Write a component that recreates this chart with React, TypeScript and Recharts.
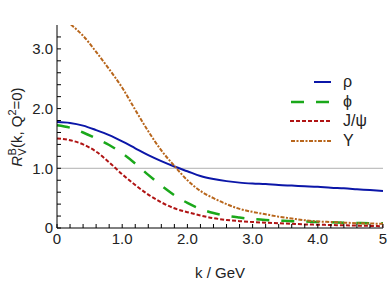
import { LineChart, Line, XAxis, YAxis, ReferenceLine, Legend } from 'recharts';

const K = [0, 0.2, 0.4, 0.6, 0.8, 1.0, 1.2, 1.4, 1.6, 1.8, 2.0, 2.2, 2.4, 2.6, 2.8, 3.0, 3.2, 3.4, 3.6, 3.8, 4.0, 4.2, 4.4, 4.6, 4.8, 5.0];

const RHO = [1.775, 1.76, 1.715, 1.64, 1.555, 1.45, 1.335, 1.22, 1.12, 1.03, 0.95, 0.87, 0.82, 0.785, 0.76, 0.745, 0.735, 0.72, 0.71, 0.70, 0.69, 0.675, 0.665, 0.65, 0.635, 0.62];
const PHI = [1.72, 1.68, 1.60, 1.50, 1.39, 1.25, 1.08, 0.89, 0.71, 0.55, 0.42, 0.32, 0.25, 0.205, 0.175, 0.15, 0.135, 0.125, 0.115, 0.11, 0.10, 0.095, 0.09, 0.085, 0.08, 0.08];
const JPSI = [1.50, 1.47, 1.40, 1.28, 1.10, 0.90, 0.72, 0.56, 0.43, 0.33, 0.265, 0.21, 0.165, 0.135, 0.115, 0.10, 0.09, 0.08, 0.07, 0.06, 0.055, 0.05, 0.045, 0.04, 0.035, 0.03];
const UPS = [3.60, 3.42, 3.22, 2.95, 2.66, 2.35, 1.98, 1.62, 1.30, 1.04, 0.80, 0.62, 0.50, 0.40, 0.32, 0.27, 0.23, 0.19, 0.16, 0.13, 0.11, 0.10, 0.09, 0.08, 0.075, 0.07];

const X_TICKS = [0, 0.2, 0.4, 0.6, 0.8, 1, 1.2, 1.4, 1.6, 1.8, 2, 2.2, 2.4, 2.6, 2.8, 3, 3.2, 3.4, 3.6, 3.8, 4, 4.2, 4.4, 4.6, 4.8, 5];
const X_LABELS = ['0', '1.0', '2.0', '3.0', '4.0', '5'];
const Y_TICKS = [0, 0.2, 0.4, 0.6, 0.8, 1, 1.2, 1.4, 1.6, 1.8, 2, 2.2, 2.4, 2.6, 2.8, 3, 3.2];
const Y_LABELS = ['0', '1.0', '2.0', '3.0'];

const SERIES = [
  { key: 'rho', name: 'ρ', values: RHO, color: '#0b16a8', dash: undefined, width: 2, x1: 314 },
  { key: 'phi', name: 'ϕ', values: PHI, color: '#1aa81a', dash: '13 12', width: 2.5, x1: 291 },
  { key: 'jpsi', name: 'J/ψ', values: JPSI, color: '#b01414', dash: '4 2', width: 2, x1: 290 },
  { key: 'ups', name: 'Υ', values: UPS, color: '#b8661c', dash: '4 1.5 2 1.5', width: 2, x1: 291 },
];

const data = K.map((k, i) => {
  const row: Record<string, number> = { k };
  SERIES.forEach(s => { row[s.key] = s.values[i]; });
  return row;
});

const FONT = '"Liberation Sans", Arial, sans-serif';

const majorLabel = (labels: string[]) => (v: number) => {
  const r = Math.round(v);
  return Math.abs(v - r) < 1e-6 ? labels[r] ?? '' : '';
};

function LegendBox() {
  const rows = [10, 30, 49, 69];
  return (
    <svg width={100} height={80} style={{ overflow: 'visible' }}>
      {SERIES.map((s, i) => (
        <g key={s.key}>
          <line x1={s.x1 - 285} x2={331 - 285} y1={rows[i]} y2={rows[i]} stroke={s.color}
            strokeWidth={s.width} strokeDasharray={s.dash} />
          <text x={343 - 285} y={rows[i] + 5} fontSize={16} fontFamily={FONT} fill="#222">{s.name}</text>
        </g>
      ))}
    </svg>
  );
}

function YTitle() {
  return (
    <text transform="translate(22,127) rotate(-90)" textAnchor="middle" fontFamily={FONT} fontSize={15} fill="#222">
      <tspan fontStyle="italic">R</tspan>
      <tspan fontSize={11} dy={4}>V</tspan>
      <tspan fontSize={11} dx={-7} dy={-10}>B</tspan>
      <tspan dy={6}>(k, Q</tspan>
      <tspan fontSize={11} dy={-6}>2</tspan>
      <tspan dy={6}>=0)</tspan>
    </text>
  );
}

export default function App() {
  return (
    <div style={{ position: 'absolute', left: 0, top: 0, background: '#fff' }}>
      <LineChart width={390} height={285} data={data} margin={{ top: 25, right: 7, left: 0, bottom: 0 }}>
        <XAxis dataKey="k" type="number" domain={[0, 5]} ticks={X_TICKS} interval={0}
          tickFormatter={majorLabel(X_LABELS)} height={57} tickSize={-4} tickMargin={9}
          axisLine={{ stroke: '#000' }} tickLine={{ stroke: '#000' }}
          tick={{ fontSize: 15, fontFamily: FONT, fill: '#222' }}
          label={{ value: 'k / GeV', position: 'insideBottom', offset: 7, fontSize: 15, fontFamily: FONT, fill: '#222' }} />
        <XAxis xAxisId="top" orientation="top" type="number" domain={[0, 5]} ticks={X_TICKS} interval={0}
          height={0} tick={false} tickSize={-4} axisLine={{ stroke: '#000' }} tickLine={{ stroke: '#000' }} />
        <YAxis type="number" domain={[0, 3.4]} allowDataOverflow ticks={Y_TICKS} interval={0}
          tickFormatter={majorLabel(Y_LABELS)} width={57} tickSize={-4} tickMargin={8}
          axisLine={{ stroke: '#000' }} tickLine={{ stroke: '#000' }}
          tick={{ fontSize: 15, fontFamily: FONT, fill: '#222' }}
          label={{ content: () => <YTitle /> }} />
        <YAxis yAxisId="right" orientation="right" type="number" domain={[0, 3.4]} ticks={Y_TICKS} interval={0}
          width={0} tick={false} tickSize={-4} axisLine={{ stroke: '#000' }} tickLine={{ stroke: '#000' }} />
        <ReferenceLine y={1} stroke="#b0b0b0" strokeWidth={1} />
        <Legend layout="horizontal" verticalAlign="middle" align="center" content={() => <LegendBox />}
          wrapperStyle={{ left: 285, top: 72, width: 100, height: 80 }} />
        {SERIES.map(s => (
          <Line key={s.key} dataKey={s.key} name={s.name} type="monotone" stroke={s.color}
            strokeWidth={s.width} strokeDasharray={s.dash} dot={false} activeDot={false}
            isAnimationActive={false} />
        ))}
      </LineChart>
    </div>
  );
}
